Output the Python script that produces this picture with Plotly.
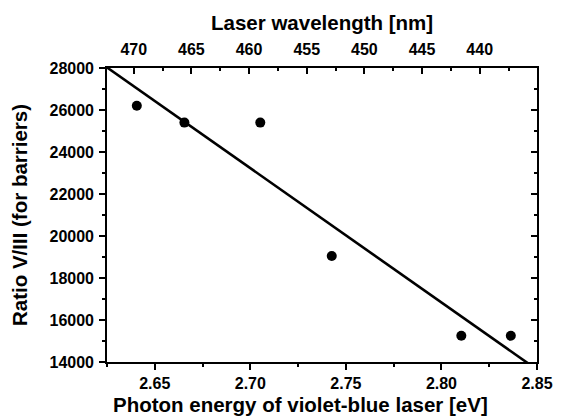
import numpy as np
import plotly.graph_objects as go

# Measured V/III ratio (barriers) versus photon energy of the violet-blue laser
photon_energy_ev = [2.6406, 2.6655, 2.7052, 2.7426, 2.8104, 2.8363]
ratio_v_iii = [26200, 25400, 25400, 19050, 15250, 15250]

x_range = [2.625, 2.85]
y_range = [14000, 28000]
HC_EV_NM = 1239.84  # h*c in eV*nm, links the energy axis to wavelength

# Least-squares linear fit through the measurements
slope, intercept = np.polyfit(photon_energy_ev, ratio_v_iii, 1)
fit_x = np.array([2.60, 2.87])
fit_y = slope * fit_x + intercept

FONT = "Liberation Sans, Arial, sans-serif"
tick_font = dict(family=FONT, size=16, color="black", weight="bold")
title_font = dict(family=FONT, size=20.5, color="black", weight="bold")

fig = go.Figure()
fig.add_trace(go.Scatter(
    x=fit_x, y=fit_y, mode="lines",
    line=dict(color="black", width=2.6), showlegend=False, hoverinfo="skip",
))
fig.add_trace(go.Scatter(
    x=photon_energy_ev, y=ratio_v_iii, mode="markers",
    marker=dict(color="black", size=10), showlegend=False,
))
# Carrier traces so the wavelength axis (top) and mirrored right axis render
fig.add_trace(go.Scatter(
    x=[HC_EV_NM / e for e in photon_energy_ev], y=ratio_v_iii,
    xaxis="x2", yaxis="y", mode="markers", marker=dict(opacity=0),
    showlegend=False, hoverinfo="skip",
))
fig.add_trace(go.Scatter(
    x=photon_energy_ev, y=ratio_v_iii, xaxis="x", yaxis="y2",
    mode="markers", marker=dict(opacity=0), showlegend=False, hoverinfo="skip",
))

axis_common = dict(
    showgrid=False, zeroline=False, showline=True, linecolor="black",
    linewidth=1.6, tickcolor="black", tickwidth=1.6, tickfont=tick_font,
)

fig.update_layout(
    width=565, height=419,
    margin=dict(l=107, r=20, t=68, b=57),
    paper_bgcolor="white", plot_bgcolor="white",
    xaxis=dict(
        **axis_common, range=x_range, dtick=0.05, tick0=2.65,
        tickformat=".2f", ticks="outside", ticklen=6,
        minor=dict(ticks="outside", ticklen=3.5, dtick=0.025, tick0=2.625,
                   tickcolor="black", tickwidth=1.6),
    ),
    xaxis2=dict(
        **axis_common, overlaying="x", side="top", anchor="y",
        range=[HC_EV_NM / x_range[0], HC_EV_NM / x_range[1]],
        dtick=5, tick0=0, ticks="inside", ticklen=6, ticklabelstandoff=5,
        minor=dict(ticks="inside", ticklen=3.5, dtick=2.5, tick0=0,
                   tickcolor="black", tickwidth=1.6),
    ),
    yaxis=dict(
        **axis_common, range=y_range, dtick=2000, tick0=14000,
        tickformat="d", ticks="outside", ticklen=6, ticklabelstandoff=2,
        minor=dict(ticks="outside", ticklen=3.5, dtick=1000, tick0=14000,
                   tickcolor="black", tickwidth=1.6),
        title=dict(text="Ratio V/III (for barriers)", font=title_font,
                   standoff=16),
    ),
    yaxis2=dict(
        **axis_common, overlaying="y", side="right", anchor="x",
        range=y_range, dtick=2000, tick0=14000, ticks="inside", ticklen=6,
        showticklabels=False,
        minor=dict(ticks="inside", ticklen=3.5, dtick=1000, tick0=14000,
                   tickcolor="black", tickwidth=1.6),
    ),
    annotations=[
        dict(text="Photon energy of violet-blue laser [eV]", font=title_font,
             xref="paper", yref="paper", x=0.451, y=0, yshift=-42,
             xanchor="center", yanchor="middle", showarrow=False),
        dict(text="Laser wavelength [nm]", font=title_font,
             xref="paper", yref="paper", x=0.5, y=1, yshift=46,
             xanchor="center", yanchor="middle", showarrow=False),
    ],
)

fig.write_html("out.html")
